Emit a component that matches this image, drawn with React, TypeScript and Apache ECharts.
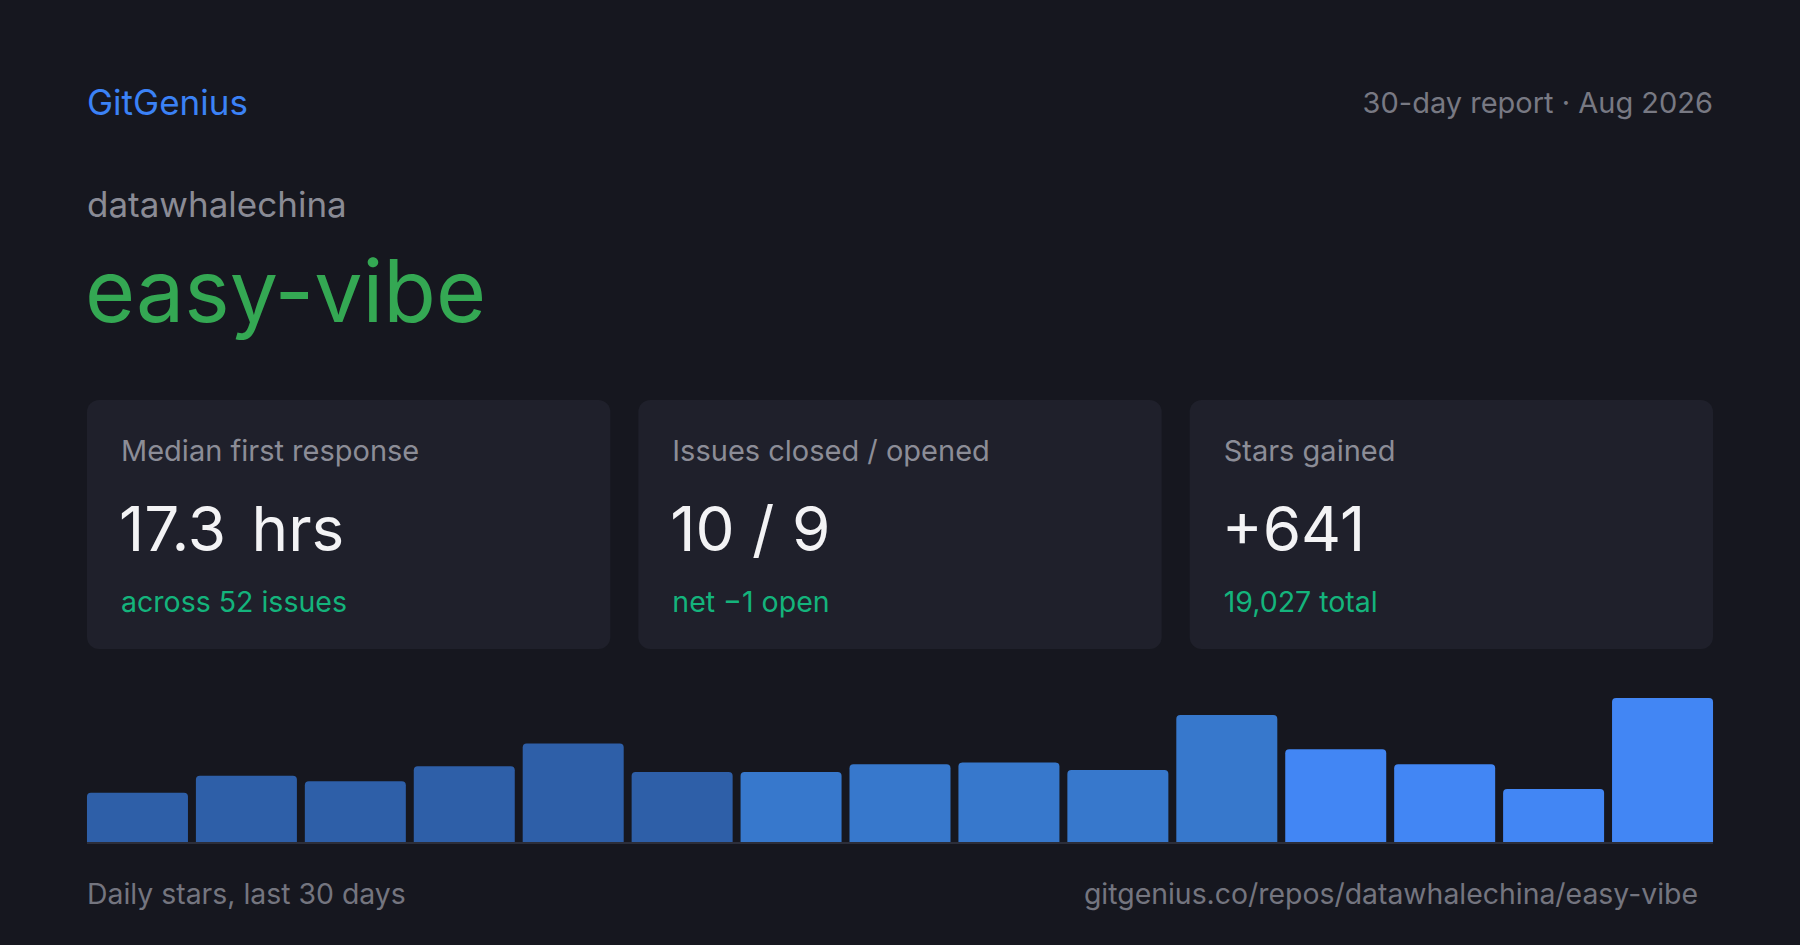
import React, { useEffect, useRef } from "react";
import * as echarts from "echarts";

const buckets = ["1", "2", "3", "4", "5", "6", "7", "8", "9", "10", "11", "12", "13", "14", "15"];
const dailyStars = [26, 35, 32, 40, 52, 37, 37, 41, 42, 38, 67, 49, 41, 28, 76];
const barTier = [0, 0, 0, 0, 0, 0, 1, 1, 1, 1, 1, 2, 2, 2, 2];
const tierColors = ["#2e5fa8", "#3778cc", "#4286f4"];

const brand = "GitGenius";
const reportLabel = "30-day report · Aug 2026";
const owner = "datawhalechina";
const repo = "easy-vibe";
const cardLabels = ["Median first response", "Issues closed / opened", "Stars gained"];
const cardValues = ["17.3", "10 / 9", "+641"];
const cardUnits = ["hrs", "", ""];
const cardSubs = ["across 52 issues", "net −1 open", "19,027 total"];
const footerLeft = "Daily stars, last 30 days";
const footerRight = "gitgenius.co/repos/datawhalechina/easy-vibe";

const FONT = "Inter, 'Noto Sans', sans-serif";

export default function App() {
  const ref = useRef<HTMLDivElement>(null);
  useEffect(() => {
    document.body.style.margin = "0";
    const chart = echarts.init(ref.current!, null, { renderer: "svg" });
    const W = 1800;
    const L = 87;
    const R = 1713;
    const cardW = (R - L - 56) / 3;
    const graphics: any[] = [
      { type: "text", style: { x: L, y: 102, text: brand, fill: "#3b82f6", fontSize: 35, fontFamily: FONT, textVerticalAlign: "middle" } },
      { type: "text", style: { x: R, y: 102, text: reportLabel, fill: "#787983", fontSize: 29, fontFamily: FONT, textAlign: "right", textVerticalAlign: "middle" } },
      { type: "text", style: { x: L, y: 204, text: owner, fill: "#8a8b95", fontSize: 35, fontFamily: FONT, textVerticalAlign: "middle" } },
      { type: "text", style: { x: L - 2, y: 291, text: repo, fill: "#34a853", fontSize: 86, fontFamily: FONT, textVerticalAlign: "middle" } },
      { type: "rect", shape: { x: L, y: 842, width: R - L, height: 2 }, style: { fill: "#2c2e3a" } },
      { type: "text", style: { x: L, y: 893, text: footerLeft, fill: "#74757f", fontSize: 28.4, fontFamily: FONT, textVerticalAlign: "middle" } },
      { type: "text", style: { x: 1698, y: 893, text: footerRight, fill: "#74757f", fontSize: 28.4, fontFamily: FONT, textAlign: "right", textVerticalAlign: "middle" } },
    ];
    cardLabels.forEach((lab, i) => {
      const x = L + i * (cardW + 28);
      graphics.push({ type: "rect", shape: { x, y: 400, width: cardW, height: 249, r: 12 }, style: { fill: "#1f202b" } });
      graphics.push({ type: "text", style: { x: x + 34, y: 450, text: lab, fill: "#8c8d97", fontSize: 29, fontFamily: FONT, textVerticalAlign: "middle" } });
      const unit = cardUnits[i];
      graphics.push({
        type: "text",
        style: {
          x: x + 32, y: 528,
          text: unit ? `{v|${cardValues[i]}} {u|${unit}}` : `{v|${cardValues[i]}}`,
          rich: {
            v: { fontSize: 62, fontFamily: FONT, fill: "#f3f3f5", color: "#f3f3f5" },
            u: { fontSize: 62, fontFamily: FONT, fill: "#f3f3f5", color: "#f3f3f5", padding: [0, 0, 0, 8] },
          },
          fill: "#f3f3f5", fontSize: 62, fontFamily: FONT, textVerticalAlign: "middle",
        },
      });
      graphics.push({ type: "text", style: { x: x + 34, y: 601, text: cardSubs[i], fill: "#14b47c", fontSize: 28.5, fontFamily: FONT, textVerticalAlign: "middle" } });
    });

    chart.setOption({
      animation: false,
      backgroundColor: "#16171f",
      grid: { left: 83, right: W - 1717, top: 698, bottom: 945 - 842, containLabel: false },
      xAxis: { type: "category", data: buckets, axisLine: { show: false }, axisTick: { show: false }, axisLabel: { show: false }, splitLine: { show: false } },
      yAxis: { type: "value", min: 0, max: 76, show: false, splitLine: { show: false } },
      series: [
        {
          type: "bar",
          barWidth: 101,
          data: dailyStars.map((v, i) => ({ value: v, itemStyle: { color: tierColors[barTier[i]], borderRadius: [4, 4, 0, 0] } })),
        },
      ],
      graphic: graphics,
    });
    return () => chart.dispose();
  }, []);
  return <div ref={ref} style={{ position: "absolute", left: 0, top: 0, width: 1800, height: 945 }} />;
}
